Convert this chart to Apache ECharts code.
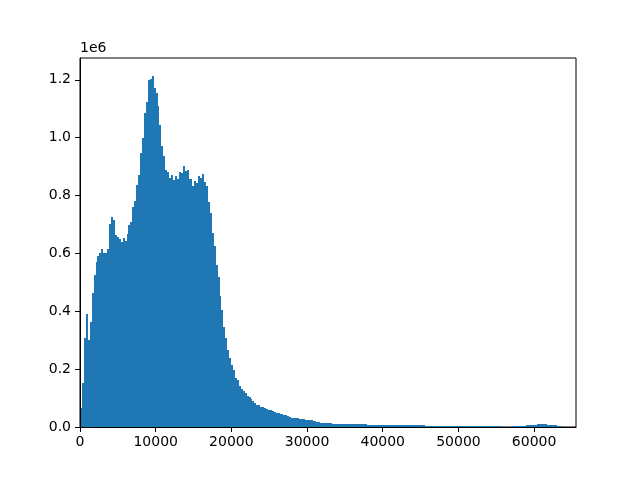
<!DOCTYPE html>
<html>
<head>
<meta charset="utf-8">
<script src="https://cdn.jsdelivr.net/npm/echarts@6/dist/echarts.min.js"></script>
<style>
html,body{margin:0;padding:0;background:#fff;}
#chart{width:640px;height:480px;}
</style>
</head>
<body>
<div id="chart"></div>
<script>
// Histogram: 256 bins of width 256 over 0..65535, counts in units of 1e6
const binWidth = 256;
const countsLow = [
  0.064,0.152,0.307,0.390,0.300,0.362,0.462,0.527,0.570,0.591,
  0.600,0.615,0.600,0.603,0.615,0.702,0.726,0.715,0.665,0.655,
  0.648,0.639,0.653,0.644,0.667,0.699,0.709,0.762,0.780,0.836,
  0.870,0.946,0.999,1.085,1.122,1.198,1.202,1.2145,1.172,1.154,
  1.108,1.044,0.972,0.937,0.889,0.882,0.861,0.870,0.854,0.868,
  0.856,0.882,0.879,0.902,0.884,0.889,0.858,0.856,0.833,0.849,
  0.842,0.868,0.861,0.875
];
const countsMid = [
  0.845,0.833,0.778,0.741,0.669,0.625,0.559,0.519,0.452,0.404,
  0.344,0.307,0.265,0.240,0.214,0.196,0.171,0.162,0.143,0.133,
  0.124,0.117,0.106,0.102,0.0955,0.0885,0.0835,0.0775,0.0745,0.0705,
  0.0675,0.0645,0.0625,0.0595,0.0575,0.0555,0.0515,0.0495,0.0475,0.0455,
  0.0445,0.0415,0.0405,0.0375,0.0355,0.0325,0.0315,0.0305,0.0295,0.0285,
  0.0275,0.0265,0.0255,0.0245,0.0235,0.0225,0.0205,0.0195,0.0175,0.0165,
  0.0155,0.0145,0.0135,0.0135
];
const countsHigh = [
  0.0125,0.0125,0.0115,0.0115,0.0115,0.011,0.011,
  0.0105,0.0105,0.0103,0.0101,0.010,0.0099,0.0097,0.0095,0.0095,0.0093,0.0091,0.009,
  0.0087,0.0085,0.0085,0.0083,0.0083,0.0081,0.0081,0.008,0.0079,0.0078,
  0.0077,0.0077,0.0076,0.0075,0.0075,0.0074,0.0073,0.0073,0.0072,0.0071,
  0.0057,0.0056,0.0055,0.0055,0.0054,0.0054,0.0053,0.0053,0.0052,0.0052,
  0.0052,0.0051,0.0051,0.0051,0.005,0.005,0.005,0.005,0.0049,0.0049,
  0.0049,0.0049,0.0048,0.0048,0.0048
];
const countsTail = [
  0.0048,0.0048,0.0047,0.0047,0.0047,
  0.0047,0.0046,0.0046,0.0046,0.0046,0.0045,0.0045,0.0045,0.0045,0.0045,
  0.0045,0.0044,0.0044,0.0044,0.0044,0.0044,0.0043,0.0043,0.0043,0.0043,0.0042,
  0,0,0,0,0,
  0.0042,0.0005,
  0.0045,0.0045,0.0048,0.0048,0.005,0.0052,0.0055,0.0058,
  0.0068,0.0075,0.0082,0.009,
  0.0105,0.011,0.011,0.0105,
  0.0085,0.0078,0.007,0.0062,
  0.0052,0.0048,0.0045,0.0042,
  0,0,0,0,0,0,0
];
const xTicks = [0,10000,20000,30000,40000,50000,60000];
const yTicks = [0,0.2,0.4,0.6,0.8,1.0,1.2];
const xMax = 65535;
const yMax = 1.2752;
const barColor = '#1f77b4';

const counts = countsLow.concat(countsMid, countsHigh, countsTail);
const data = [];
counts.forEach(function (c, i) {
  if (c > 0) data.push([i * binWidth, (i + 1) * binWidth, c]);
});

const chart = echarts.init(document.getElementById('chart'), null, {renderer: 'canvas'});
const font = 'DejaVu Sans';
chart.setOption({
  animation: false,
  backgroundColor: '#fff',
  grid: {left: 80, right: 64, top: 58, bottom: 53, show: true, borderColor: '#000', borderWidth: 1, containLabel: false},
  xAxis: {
    type: 'value', min: 0, max: xMax, z: 10,
    axisLine: {show: true, onZero: false, lineStyle: {color: '#000', width: 1}},
    axisTick: {show: true, length: 5, customValues: xTicks, lineStyle: {color: '#000', width: 1}},
    axisLabel: {show: true, customValues: xTicks, margin: 8, color: '#000', fontSize: 14, fontFamily: font,
      formatter: function (v) { return String(Math.round(v)); }},
    splitLine: {show: false}
  },
  yAxis: {
    type: 'value', min: 0, max: yMax, z: 10,
    name: '1e6', nameLocation: 'end', nameGap: 3,
    nameTextStyle: {align: 'left', verticalAlign: 'bottom', color: '#000', fontSize: 14, fontFamily: font},
    axisLine: {show: true, onZero: false, lineStyle: {color: '#000', width: 1}},
    axisTick: {show: true, length: 5, customValues: yTicks, lineStyle: {color: '#000', width: 1}},
    axisLabel: {show: true, customValues: yTicks, margin: 9, color: '#000', fontSize: 14, fontFamily: font,
      formatter: function (v) { return v.toFixed(1); }},
    splitLine: {show: false}
  },
  series: [{
    type: 'custom',
    clip: true,
    silent: true,
    encode: {x: [0, 1], y: 2},
    data: data,
    renderItem: function (params, api) {
      const top = api.coord([api.value(0), api.value(2)]);
      const base = api.coord([api.value(1), 0]);
      // snap bar edges to whole pixels, as the reference renderer does
      const x0 = Math.round(top[0]);
      const x1 = Math.round(base[0]);
      const yb = Math.round(base[1]);
      let yt = Math.round(top[1]);
      if (yt >= yb) yt = yb - 1;
      return {
        type: 'rect',
        shape: {x: x0, y: yt, width: x1 - x0, height: yb - yt},
        style: {fill: barColor}
      };
    }
  }]
});
</script>
</body>
</html>
